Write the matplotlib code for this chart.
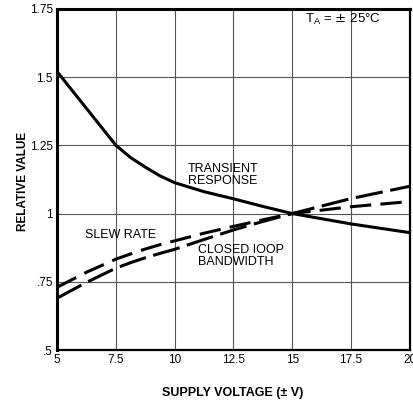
import matplotlib.pyplot as plt

# supply voltage (± V)
voltage = [5, 6.25, 7.5, 8.125, 8.75, 9.375, 10, 11.25, 12.5, 13.75, 15, 17.5, 20]
transient = [1.52, 1.385, 1.25, 1.205, 1.17, 1.138, 1.113, 1.08, 1.054, 1.026, 1.0, 0.962, 0.93]
slew_rate = [0.73, 0.785, 0.833, 0.852, 0.87, 0.886, 0.90, 0.928, 0.953, 0.977, 1.0, 1.025, 1.044]
bandwidth = [0.69, 0.748, 0.80, 0.82, 0.838, 0.854, 0.869, 0.905, 0.94, 0.971, 1.0, 1.055, 1.10]

x_ticks = [5, 7.5, 10, 12.5, 15, 17.5, 20]
x_labels = ["5", "7.5", "10", "12.5", "15", "17.5", "20"]
y_ticks = [0.5, 0.75, 1.0, 1.25, 1.5, 1.75]
y_labels = [".5", ".75", "1", "1.25", "1.5", "1.75"]

plt.rcParams["font.family"] = ["Liberation Sans", "DejaVu Sans"]

fig = plt.figure(figsize=(4.14, 4.03), dpi=100)
ax = fig.add_axes([0.138, 0.1315, 0.852, 0.8465])

ax.plot(voltage, transient, color="black", lw=2.2)
ax.plot(voltage, slew_rate, color="black", lw=2.2, dashes=(7, 3))
ax.plot(voltage, bandwidth, color="black", lw=2.2, dashes=(9, 2.5))

ax.set_xlim(5, 20)
ax.set_ylim(0.5, 1.75)
ax.set_xticks(x_ticks)
ax.set_xticklabels(x_labels)
ax.set_yticks(y_ticks)
ax.set_yticklabels(y_labels)
ax.tick_params(length=0, labelsize=8.5, pad=3)
ax.grid(True, color="#555555", lw=0.8)

for side in ["left", "top"]:
    ax.spines[side].set_linewidth(2.2)
for side in ["right", "bottom"]:
    ax.spines[side].set_linewidth(1.6)

fig.text(0.055, 0.55, "RELATIVE VALUE", fontsize=8.5, fontweight="bold",
         rotation=90, ha="center", va="center")
fig.text(0.563, 0.025, "SUPPLY VOLTAGE (± V)", fontsize=9, fontweight="bold",
         ha="center", va="center")

ax.text(10.55, 1.143, "TRANSIENT\nRESPONSE", fontsize=9, va="center",
        ha="left", linespacing=1.0)
ax.text(6.2, 0.92, "SLEW RATE", fontsize=9, va="center", ha="left")
ax.text(11.0, 0.843, "CLOSED IOOP\nBANDWIDTH", fontsize=9, va="center",
        ha="left", linespacing=1.0)
ax.text(15.55, 1.71, "T$_\\mathregular{A}$ = $\\pm$ 25°C", fontsize=9.5,
        va="center", ha="left")

plt.savefig("out.png", dpi=100)
plt.close()
